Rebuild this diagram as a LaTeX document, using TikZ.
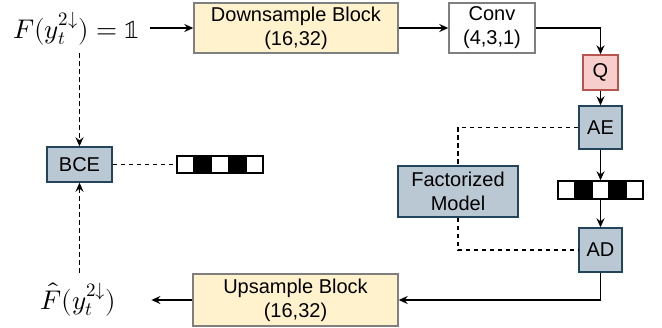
\documentclass[tikz,border=0pt]{standalone}
\usepackage{unicode-math}
\setmainfont{Liberation Sans}
\setmathfont{Latin Modern Math}
\usetikzlibrary{arrows.meta,calc}

\definecolor{edgegray}{HTML}{7F7F7F}
\definecolor{sandfill}{HTML}{FFF2CC}
\definecolor{rosefill}{HTML}{F8CECC}
\definecolor{roseedge}{HTML}{B85450}
\definecolor{slatefill}{HTML}{BAC8D3}
\definecolor{slateedge}{HTML}{23445D}

\tikzset{
  box/.style={draw, line width=1.4pt, align=center, inner sep=0pt,
    font=\fontsize{20}{24}\selectfont},
  sandbox/.style={box, draw=edgegray, fill=sandfill},
  plainbox/.style={box, draw=edgegray, fill=white},
  qbox/.style={box, draw=roseedge, fill=rosefill},
  slatebox/.style={box, draw=slateedge, fill=slatefill},
  strip/.style={draw=black, line width=1.4pt, fill=white, inner sep=0pt},
  mathlabel/.style={inner sep=0pt, font=\fontsize{27}{31}\selectfont},
  link/.style={line width=1.5pt, draw=black},
  arr/.style={link, -{Stealth[length=9pt,width=8pt,inset=3pt]}},
  dsh/.style={link, dash pattern=on 4.5pt off 3.5pt},
}

\begin{document}
\begin{tikzpicture}[x=1pt, y=-1pt]
\useasboundingbox (0,0) rectangle (662,327);

% encoder path
\node[mathlabel, anchor=base] (lab) at (76.5,38) {$F(y_t^{2\downarrow}) = \symbb{1}$};
\node[sandbox, minimum width=204pt, minimum height=50pt] (ds) at (296,28) {Downsample Block\\(16,32)};
\node[plainbox, minimum width=86pt, minimum height=50pt] (conv) at (492,28) {Conv\\(4,3,1)};
\node[qbox, minimum width=35pt, minimum height=35pt] (q) at (600.5,72.5) {Q};
\node[slatebox, minimum width=43pt, minimum height=43pt] (ae) at (600.5,127.5) {AE};
\node[strip, minimum width=85pt, minimum height=18pt] (bitsR) at (600.5,190) {};
\node[slatebox, minimum width=43pt, minimum height=44pt] (ad) at (600.5,250) {AD};
\node[slatebox, minimum width=120pt, minimum height=51pt] (fm) at (458,191.5) {Factorized\\Model};

% decoder path and loss
\node[sandbox, minimum width=205pt, minimum height=52pt] (up) at (295.5,300) {Upsample Block\\(16,32)};
\node[mathlabel, anchor=base] (fh) at (78.5,309) {$\hat{F}(y_t^{2\downarrow})$};
\node[slatebox, minimum width=65pt, minimum height=35pt] (bce) at (79.5,164.5) {BCE};
\node[strip, minimum width=86pt, minimum height=17pt] (bitsL) at (220,164.5) {};

% bit patterns: white / black / white / black / white
\foreach \s in {bitsR,bitsL} {
  \fill[black] ($(\s.north west)!0.2!(\s.north east)$) rectangle ($(\s.south west)!0.4!(\s.south east)$);
  \fill[black] ($(\s.north west)!0.6!(\s.north east)$) rectangle ($(\s.south west)!0.8!(\s.south east)$);
  \foreach \f in {0.2,0.4,0.6,0.8}
    \draw[line width=1.4pt] ($(\s.north west)!\f!(\s.north east)$) -- ($(\s.south west)!\f!(\s.south east)$);
  \draw[line width=1.4pt] (\s.north west) rectangle (\s.south east);
}

% connectors
\draw[arr] ([xshift=10pt]ds.west -| lab.east) -- (ds.west);
\draw[arr] (ds.east) -- (conv.west);
\draw[arr] (conv.east) -| (q.north);
\draw[arr] (q.south) -- (ae.north);
\draw[arr] (ae.south) -- (bitsR.north);
\draw[arr] (bitsR.south) -- (ad.north);
\draw[dsh] (ae.west) -| (fm.north);
\draw[dsh] (fm.south) |- (ad.west);
\draw[arr] (ad.south) |- (up.east);
\draw[arr] (up.west) -- ([xshift=35pt]up.west -| fh.east);
\draw[dsh] (bce.east) -- (bitsL.west);
\draw[dsh, arr, dash pattern=on 4.5pt off 3.5pt, shorten <=8pt] (lab.south -| bce.north) -- (bce.north);
\draw[dsh, arr, dash pattern=on 4.5pt off 3.5pt, shorten <=10pt] (fh.north -| bce.south) -- (bce.south);
\end{tikzpicture}
\end{document}
